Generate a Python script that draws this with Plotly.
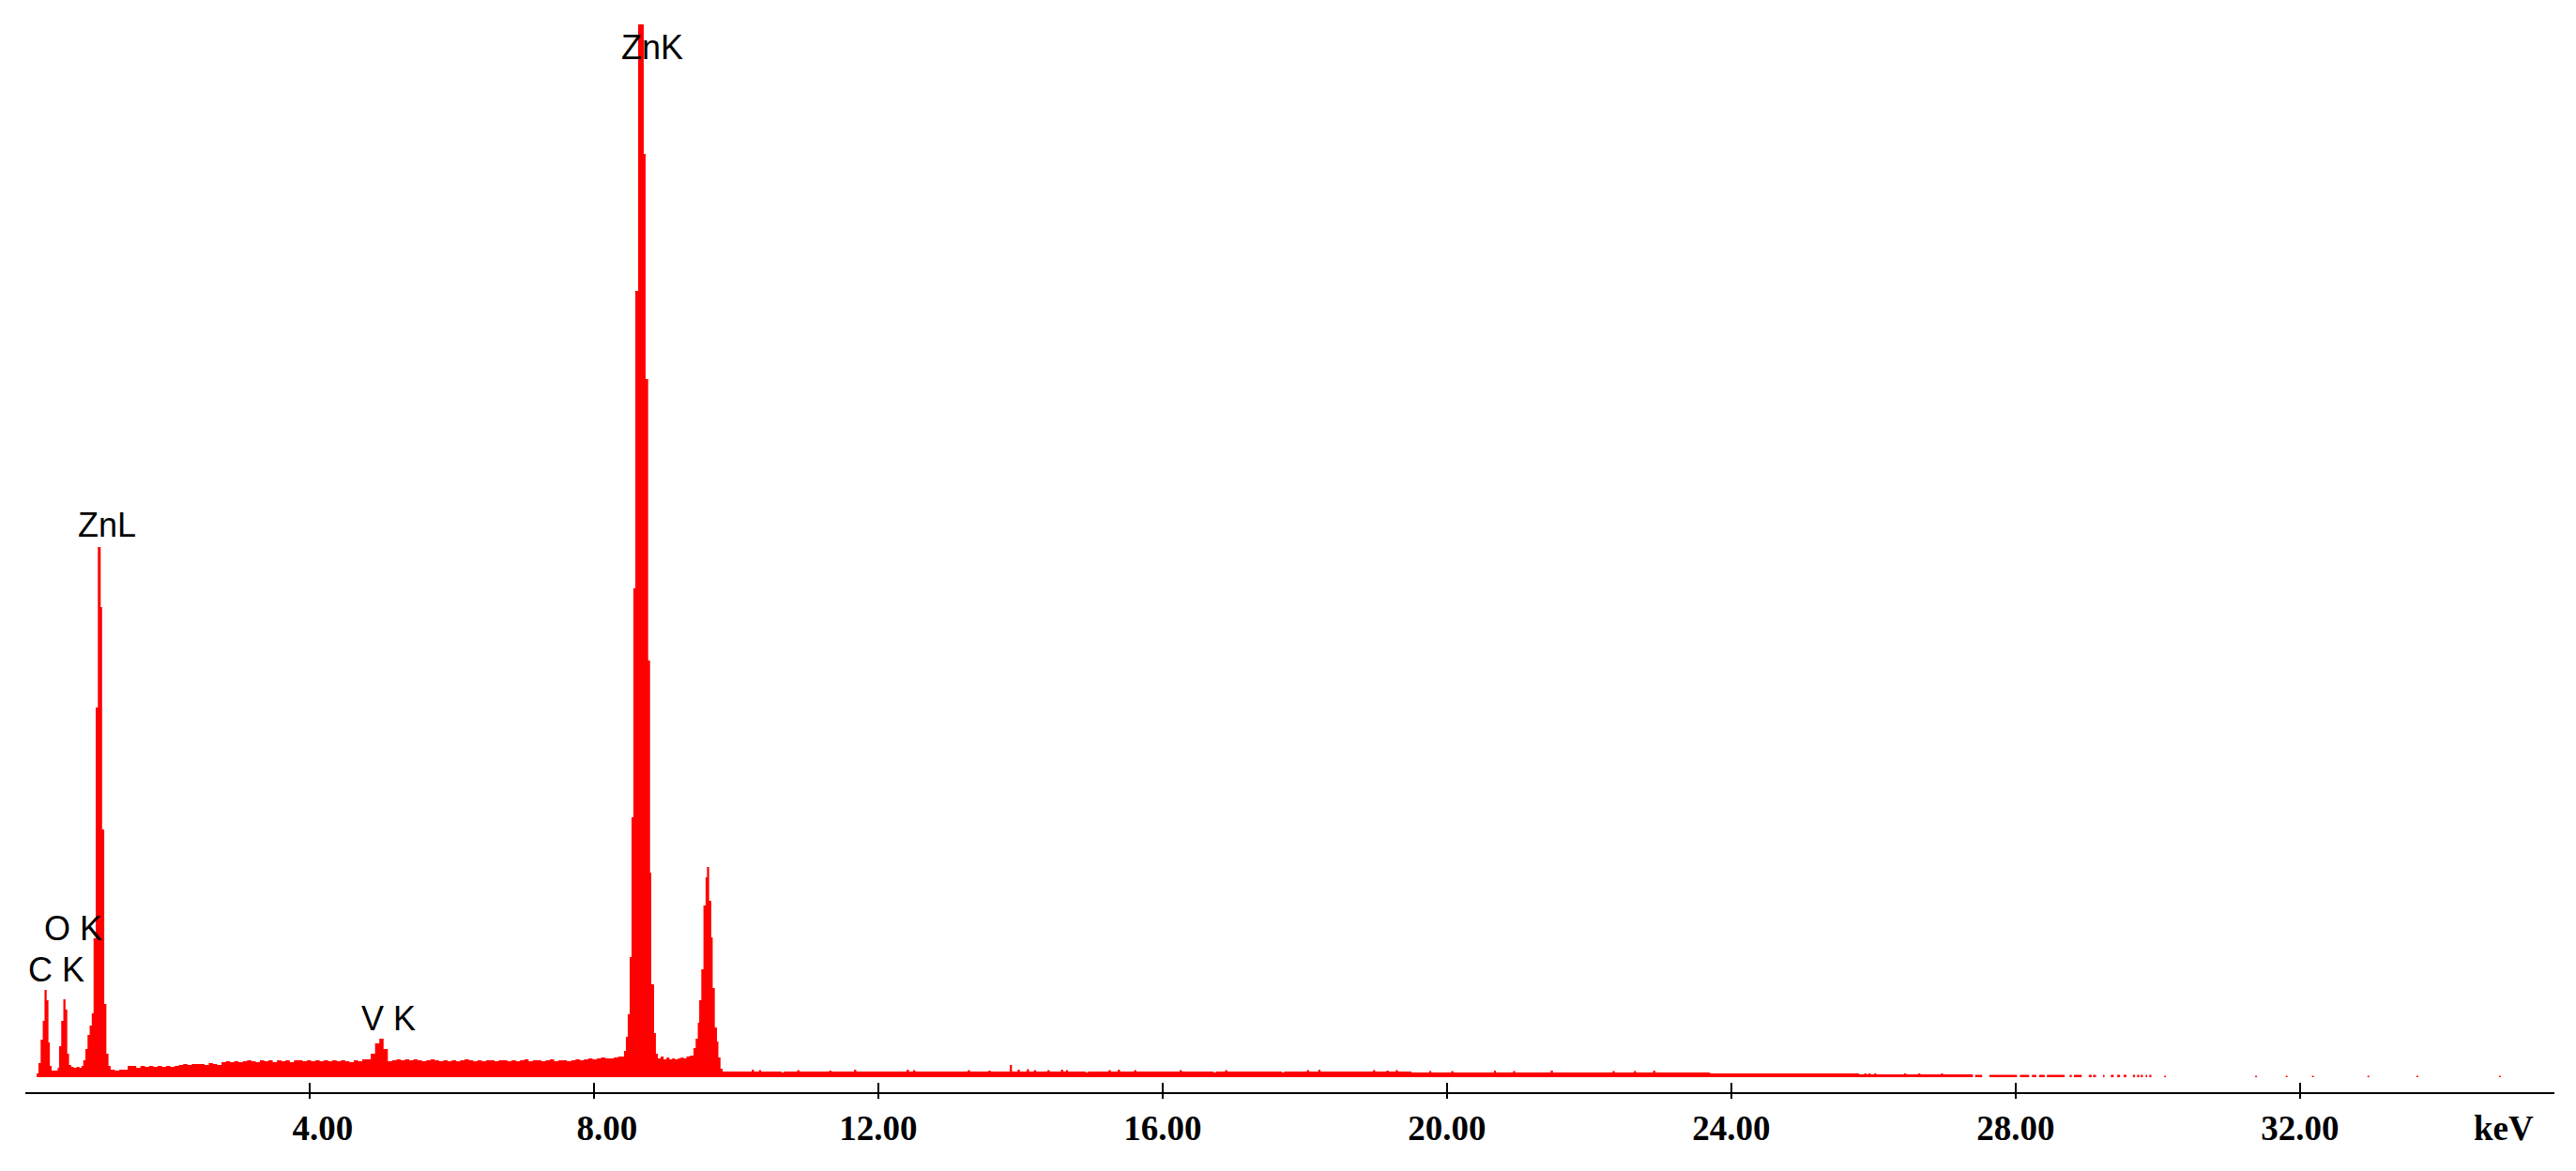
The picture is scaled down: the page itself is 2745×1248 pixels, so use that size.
"""EDS spectrum (Zn, O, C, V lines) as a filled step trace."""

import plotly.graph_objects as go

RED = "#FF0000"
INK = "#000000"
PAPER = "#FFFFFF"
SANS = "'Liberation Sans', Arial, sans-serif"
SERIF = "'Liberation Serif', 'Times New Roman', serif"

# channel left edges (keV) and counts
LOW_KEV = [0.00, 0.16, 0.185, 0.215, 0.245, 0.27, 0.30, 0.325, 0.345, 0.37,
           0.455, 0.475, 0.505, 0.535, 0.565, 0.59, 0.615, 0.645, 0.68, 0.72,
           0.76, 0.79, 0.815, 0.845, 0.875, 0.905, 0.935, 0.96, 0.99, 1.02,
           1.06, 1.08, 1.11, 1.14, 1.17]
LOW_CTS = [0, 4, 15, 40, 60, 93, 82, 37, 12, 7,
           10, 33, 60, 83, 72, 25, 13, 11, 10, 11,
           10, 12, 18, 30, 45, 55, 68, 148, 394, 565,
           501, 264, 78, 25, 12]

# 1.20 - 8.40 keV background with the V K line, evenly spaced channels
BG_START_KEV = 1.20
BG_STEP_KEV = 0.06
BG_CTS = [8, 7, 8, 8, 12, 12, 10, 12, 11, 12,
          11, 12, 11, 12, 11, 12, 13, 14, 13, 14,
          14, 14, 13, 15, 14, 13, 16, 17, 16, 17,
          16, 17, 18, 17, 16, 18, 17, 18, 16, 18,
          17, 18, 16, 18, 18, 17, 18, 17, 18, 17,
          18, 17, 18, 17, 18, 17, 16, 18, 17, 19,
          19, 25, 36, 41, 30, 17, 18, 19, 18, 19,
          18, 19, 18, 17, 18, 19, 18, 17, 18, 17,
          18, 17, 18, 19, 18, 17, 18, 17, 18, 18,
          17, 18, 18, 17, 18, 17, 18, 19, 17, 18,
          18, 17, 18, 19, 17, 18, 18, 17, 18, 19,
          18, 19, 20, 19, 20, 21, 20, 20, 21, 22]

ZNK_KEV = [8.40, 8.422, 8.449, 8.475, 8.502, 8.528, 8.554, 8.581, 8.621,
           8.700, 8.726, 8.762, 8.789, 8.805, 8.845, 8.871]
ZNK_CTS = [22, 28, 43, 67, 128, 277, 521, 838, 1122,
           984, 744, 444, 218, 99, 47, 25]

KB_KEV = [8.898, 8.94, 8.98, 9.02, 9.06, 9.10, 9.14, 9.18, 9.22, 9.26, 9.30,
          9.35, 9.40, 9.43, 9.46, 9.48, 9.51, 9.54, 9.57, 9.59, 9.62, 9.65,
          9.67, 9.70, 9.73, 9.75, 9.78]
KB_CTS = [20, 22, 19, 21, 19, 20, 19, 20, 21, 20, 22,
          23, 31, 41, 58, 82, 115, 183, 213, 224, 188, 149,
          95, 53, 38, 21, 9]

# high-energy tail: flat levels plus single-channel spikes
TAIL_EDGES_KEV = [9.81, 19.50, 23.70, 25.80, 27.40]
TAIL_LEVELS = [6, 5, 4, 3]
SPIKE_KEV = [10.22, 10.32, 10.64, 10.86, 11.31, 11.66, 12.40, 12.49, 13.26,
             13.55, 13.85, 13.96, 14.09, 14.19, 14.38, 14.57, 14.64, 14.92,
             15.24, 15.37, 15.60, 16.24, 16.72, 16.88, 17.68, 18.03, 18.19,
             18.96, 19.15, 19.28, 19.75, 20.06, 20.66, 20.93, 21.46, 22.33,
             22.63, 22.90, 25.87, 25.93, 26.01, 26.43, 26.63, 26.95]
SPIKE_CTS = [8, 7.5, 5, 7.5, 7, 8, 8, 7.5, 7.5,
             7, 13, 8, 8.5, 7.5, 7.5, 8, 7.5, 5,
             7.5, 8, 7.5, 7.5, 5, 7.5, 5, 7.5, 8,
             7.5, 7, 7.5, 6.5, 6.5, 7, 6.5, 7, 6.5,
             6.5, 7, 4, 4, 4, 4, 4, 4]

# broken strip near the end of the spectrum
SEG_START_KEV = [27.43, 27.63, 28.06, 28.23, 28.33, 28.44, 28.76, 28.82,
                 29.03, 29.09, 29.23, 29.34, 29.43, 29.52, 29.65, 29.71,
                 29.76, 29.83, 29.88]
SEG_END_KEV = [27.53, 28.02, 28.19, 28.29, 28.41, 28.69, 28.79, 28.93,
               29.07, 29.13, 29.25, 29.38, 29.47, 29.56, 29.68, 29.74,
               29.79, 29.85, 29.91]
SEG_CTS = 2.5
DOT_KEV = [30.09, 31.37, 31.80, 32.17, 32.95, 33.64, 34.80]
DOT_CTS = 1.5

TICK_VALS = [4, 8, 12, 16, 20, 24, 28, 32]
TICK_TEXT = ["4.00", "8.00", "12.00", "16.00", "20.00", "24.00", "28.00", "32.00"]
UNIT_LABEL = "keV"

PEAK_LABELS = ["C K", "O K", "ZnL", "V K", "ZnK"]
LABEL_KEV = [0.44, 0.67, 1.15, 5.11, 8.82]
LABEL_CTS = [115, 159, 589, 63, 1098]

X_MAX = 35.58


def tail_points():
    pts = []
    for i, level in enumerate(TAIL_LEVELS):
        pts.append((TAIL_EDGES_KEV[i], level))
    for e, h in zip(SPIKE_KEV, SPIKE_CTS):
        level = next(lv for lo, hi, lv in zip(TAIL_EDGES_KEV, TAIL_EDGES_KEV[1:], TAIL_LEVELS)
                     if lo <= e < hi)
        pts.append((e, h))
        pts.append((e + 0.03, level))
    pts.append((TAIL_EDGES_KEV[-1], 0))
    for s, e in zip(SEG_START_KEV, SEG_END_KEV):
        pts.append((s, SEG_CTS))
        pts.append((e, 0))
    for d in DOT_KEV:
        pts.append((d, DOT_CTS))
        pts.append((d + 0.025, 0))
    pts.append((X_MAX, 0))
    pts.sort(key=lambda p: p[0])
    return pts


def build_spectrum():
    x = list(LOW_KEV)
    y = list(LOW_CTS)
    for i, c in enumerate(BG_CTS):
        x.append(round(BG_START_KEV + i * BG_STEP_KEV, 3))
        y.append(c)
    x += ZNK_KEV
    y += ZNK_CTS
    x += KB_KEV
    y += KB_CTS
    for e, h in tail_points():
        x.append(e)
        y.append(h)
    return x, y


def build():
    x, y = build_spectrum()

    fig = go.Figure()
    fig.add_scatter(
        x=x, y=y,
        mode="lines",
        line=dict(shape="hv", width=0, color=RED),
        fill="tozeroy",
        fillcolor=RED,
        hoverinfo="skip",
        showlegend=False,
    )
    # carrier for the overlay axis that draws the upper half of each tick
    fig.add_scatter(
        x=[TICK_VALS[0]], y=[0], xaxis="x2",
        mode="markers", marker=dict(opacity=0),
        hoverinfo="skip", showlegend=False,
    )

    for text, kx, ky in zip(PEAK_LABELS, LABEL_KEV, LABEL_CTS):
        fig.add_annotation(
            x=kx, y=ky, text=text, showarrow=False,
            font=dict(family=SANS, size=36, color=INK),
        )
    fig.add_annotation(
        xref="paper", yref="paper", x=0.980, y=-0.034,
        xanchor="center", yanchor="middle",
        text=f"<b>{UNIT_LABEL}</b>", showarrow=False,
        font=dict(family=SERIF, size=37, color=INK),
    )

    # single-digit labels sit right-aligned like the two-digit ones
    ticktext = [("\u00a0" * 3 + t) if len(t) == 4 else t for t in TICK_TEXT]

    axis_common = dict(
        range=[0, X_MAX],
        tickmode="array",
        tickvals=TICK_VALS,
        showgrid=False,
        zeroline=False,
        tickwidth=2,
        tickcolor=INK,
    )

    fig.update_layout(
        width=2745,
        height=1248,
        paper_bgcolor=PAPER,
        plot_bgcolor=PAPER,
        margin=dict(l=27, r=23, t=20, b=84),
        showlegend=False,
        xaxis=dict(
            **axis_common,
            ticktext=ticktext,
            ticks="outside",
            ticklen=5,
            showline=True,
            linecolor=INK,
            linewidth=2,
            tickfont=dict(family=SERIF, size=37, color=INK, weight="bold"),
        ),
        xaxis2=dict(
            **axis_common,
            overlaying="x",
            anchor="y",
            side="bottom",
            ticks="inside",
            ticklen=10,
            showticklabels=False,
            showline=False,
        ),
        yaxis=dict(
            range=[-16, 1128],
            visible=False,
            showgrid=False,
            zeroline=False,
        ),
    )

    fig.write_html(
        "out.html",
        config={"displayModeBar": False},
        post_script="document.body.style.margin='0';document.body.style.overflow='hidden';",
    )


if __name__ == "__main__":
    build()
